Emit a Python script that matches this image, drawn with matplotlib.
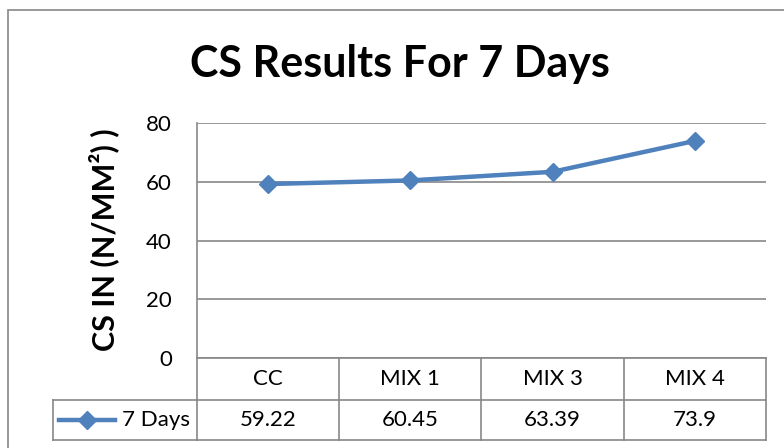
import matplotlib.pyplot as plt
from matplotlib.patches import Rectangle
from matplotlib.lines import Line2D
from matplotlib.transforms import blended_transform_factory

categories = ['CC', 'MIX 1', 'MIX 3', 'MIX 4']
values = [59.22, 60.45, 63.39, 73.9]
value_labels = ['59.22', '60.45', '63.39', '73.9']
series_name = '7 Days'
yticks = [0, 20, 40, 60, 80]

plt.rcParams['font.family'] = ['Lato', 'DejaVu Sans']

LINE_BLUE = '#4F81BD'
GRID = '#878787'

fig = plt.figure(figsize=(7.84, 4.48), dpi=100)
ax = fig.add_axes([197 / 784, 1 - 358 / 448, 569 / 784, 235 / 448])

# chart frame (cut off at right and bottom like the source)
fig.patches.append(Rectangle((8 / 784, -0.1), 1.2, 1 - 10 / 448 + 0.1,
                             transform=fig.transFigure, fill=False,
                             edgecolor=GRID, linewidth=1.2))

x = list(range(len(categories)))
ax.plot(x, values, color=LINE_BLUE, linewidth=3.2, marker='D', markersize=9.5,
        zorder=5, clip_on=False)

ax.set_xlim(-0.5, len(categories) - 0.5)
ax.set_ylim(0, 80)
ax.set_yticks(yticks)
ax.set_xticks([])
ax.tick_params(axis='y', length=0, pad=18, labelsize=16)
ax.yaxis.grid(True, color=GRID, linewidth=1.2)
ax.set_axisbelow(True)
for s in ['top', 'right']:
    ax.spines[s].set_visible(False)
for s in ['left', 'bottom']:
    ax.spines[s].set_color(GRID)
    ax.spines[s].set_linewidth(1.2)

fig.text(104 / 784, 1 - 240 / 448, 'CS IN (N/MM²) )', rotation=90,
         ha='center', va='center', fontsize=22, fontweight='bold')
fig.text(400 / 784, 1 - 64 / 448, 'CS Results For 7 Days', ha='center',
         va='center', fontsize=31, fontweight='bold')

# data table under the axis
tr = blended_transform_factory(ax.transData, ax.transAxes)
row1 = -42 / 235
row2 = -82 / 235
kw = dict(color=GRID, linewidth=1.2, clip_on=False)
for i, (cat, lab) in enumerate(zip(categories, value_labels)):
    ax.plot([i + 0.5, i + 0.5], [0, row2], transform=tr, **kw)
    ax.text(i, row1 / 2, cat, transform=tr, ha='center', va='center', fontsize=16)
    ax.text(i, (row1 + row2) / 2, lab, transform=tr, ha='center',
            va='center', fontsize=16)
ax.plot([-0.5, -0.5], [0, row2], transform=tr, **kw)
ax.plot([-0.5, len(categories) - 0.5], [row1, row1], transform=tr, **kw)
ax.plot([-0.5, len(categories) - 0.5], [row2, row2], transform=tr, **kw)

# legend cell
lx0 = (53 - 197) / 569
ax.plot([lx0, 0], [row1, row1], transform=ax.transAxes, **kw)
ax.plot([lx0, 0], [row2, row2], transform=ax.transAxes, **kw)
ax.plot([lx0, lx0], [row1, row2], transform=ax.transAxes, **kw)
ym = (row1 + row2) / 2
ax.add_line(Line2D([(59 - 197) / 569, (115 - 197) / 569], [ym, ym],
                   transform=ax.transAxes, color=LINE_BLUE, linewidth=3.2,
                   clip_on=False))
ax.add_line(Line2D([(87 - 197) / 569], [ym], transform=ax.transAxes,
                   color=LINE_BLUE, marker='D', markersize=9.5, clip_on=False))
ax.text((190 - 197) / 569, ym, series_name, transform=ax.transAxes,
        ha='right', va='center', fontsize=16)

fig.savefig('out.png', dpi=100)
